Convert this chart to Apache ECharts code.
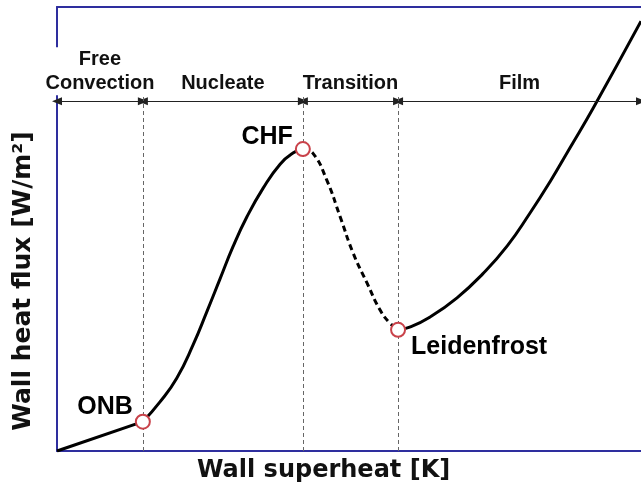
<!DOCTYPE html>
<html>
<head>
<meta charset="utf-8">
<title>Boiling curve</title>
<script src="https://cdn.jsdelivr.net/npm/echarts@6/dist/echarts.min.js"></script>
<style>
  html, body { margin: 0; padding: 0; background: #fff; }
  #chart { width: 641px; height: 487px; }
</style>
</head>
<body>
<div id="chart"></div>
<script>
// curve pieces, x = wall superheat, y = wall heat flux (arbitrary units 0..100)
const freeConvection = [[0, 0], [14.7, 6.6]]
const nucleate = [
  [14.7, 6.6], [17.6, 11.0], [20.5, 16.4], [23.3, 23.9], [25.7, 31.5], [27.9, 38.7],
  [30.1, 45.9], [32.5, 52.7], [35.3, 59.2], [38.2, 64.6], [40.4, 67.1], [42.1, 68.0],
]
const transition = [
  [42.1, 68.0], [43.8, 67.1], [46.2, 61.0], [48.5, 52.7], [50.7, 44.6],
  [53.1, 37.8], [55.3, 31.8], [57.0, 28.8], [58.4, 27.3],
]
const film = [
  [58.4, 27.3], [60.4, 27.9], [63.9, 30.2], [68.5, 34.5], [72.9, 39.9], [77.1, 46.2],
  [81.0, 53.6], [84.4, 60.6], [87.8, 68.2], [91.8, 77.2], [100, 96.8],
]

const pointNames = ['ONB', 'CHF', 'Leidenfrost']
const pointValues = [[14.7, 6.6], [42.1, 68.0], [58.4, 27.3]]

const regionNames = ['Free\nConvection', 'Nucleate', 'Transition', 'Film']
const regionBounds = [0, 14.7, 42.1, 58.4, 100]
const arrowY = 78.8
const guideTop = 80

const BLUE = '#2e2e9e'
const FONT = '"Liberation Sans", Arial, sans-serif'
const TITLE_FONT = '"DejaVu Sans", sans-serif'

const chart = echarts.init(document.getElementById('chart'))

const curveLine = { color: '#000', width: 3 }

// offsets for the point labels
const pointLabels = [
  { position: 'left', distance: 2, offset: [0, -15] },
  { position: 'left', distance: 2, offset: [0, -12] },
  { position: 'right', distance: 5, offset: [0, 17] },
]

chart.setOption({
  animation: false,
  grid: { left: 57, right: 0, top: 7, bottom: 36 },
  xAxis: [
    {
      type: 'value', min: 0, max: 100, position: 'bottom',
      axisLine: { lineStyle: { color: BLUE, width: 2 } },
      axisTick: { show: false }, axisLabel: { show: false }, splitLine: { show: false },
    },
    {
      type: 'value', min: 0, max: 100, position: 'top',
      axisLine: { lineStyle: { color: BLUE, width: 2 } },
      axisTick: { show: false }, axisLabel: { show: false }, splitLine: { show: false },
    },
  ],
  yAxis: {
    type: 'value', min: 0, max: 100,
    axisLine: { show: true, lineStyle: { color: BLUE, width: 2 } },
    axisTick: { show: false }, axisLabel: { show: false }, splitLine: { show: false },
  },
  graphic: [
    {
      type: 'text', left: 197, top: 459,
      style: { text: 'Wall superheat [K]', font: 'bold 24px ' + TITLE_FONT, fill: '#111' },
    },
    {
      type: 'text', x: 23, y: 281, rotation: Math.PI / 2,
      style: {
        text: 'Wall heat flux [W/m²]', font: 'bold 25px ' + TITLE_FONT, fill: '#111',
        align: 'center', verticalAlign: 'middle',
      },
    },
  ],
  series: [
    // region arrows and vertical guides
    {
      type: 'line',
      data: [],
      markLine: {
        silent: true,
        symbol: ['triangle', 'triangle'],
        symbolSize: [8, 10],
        lineStyle: { color: '#222', width: 1, type: 'solid' },
        label: {
          show: true, position: 'middle', distance: 6,
          formatter: p => p.name,
          fontFamily: FONT, fontWeight: 'bold', fontSize: 20, color: '#111', lineHeight: 23,
        },
        data: regionNames.map((n, i) => {
          const item = [
            { name: n, coord: [regionBounds[i], arrowY] },
            { coord: [regionBounds[i + 1], arrowY] },
          ]
          if (i === 0) {
            item[0].label = { backgroundColor: '#fff', padding: [0, 2, 0, 2], lineHeight: 24 }
          }
          return item
        }),
      },
    },
    {
      type: 'line',
      data: [],
      markLine: {
        silent: true,
        symbol: 'none',
        label: { show: false },
        lineStyle: { color: '#666', width: 1, type: [4, 3] },
        data: pointValues.map(p => [{ coord: [p[0], 0] }, { coord: [p[0], guideTop] }]),
      },
    },
    // boiling curve
    { type: 'line', data: freeConvection, showSymbol: false, lineStyle: curveLine, z: 3 },
    { type: 'line', data: nucleate, showSymbol: false, smooth: 0.5, lineStyle: curveLine, z: 3 },
    {
      type: 'line', data: transition, showSymbol: false, smooth: 0.5, z: 3,
      lineStyle: { color: '#000', width: 3, type: [6, 4] },
    },
    { type: 'line', data: film, showSymbol: false, smooth: 0.5, lineStyle: curveLine, z: 3 },
    // ONB / CHF / Leidenfrost markers
    {
      type: 'scatter', z: 5,
      symbol: 'circle', symbolSize: 14,
      itemStyle: { color: '#fff', borderColor: '#c9424a', borderWidth: 2, opacity: 1 },
      label: {
        show: true, formatter: p => p.name,
        fontFamily: FONT, fontWeight: 'bold', fontSize: 25, color: '#000',
      },
      data: pointValues.map((v, i) => ({
        name: pointNames[i],
        value: v,
        label: Object.assign({ color: '#000', fontSize: 25, fontWeight: 'bold' }, pointLabels[i]),
      })),
    },
  ],
})
</script>
</body>
</html>
